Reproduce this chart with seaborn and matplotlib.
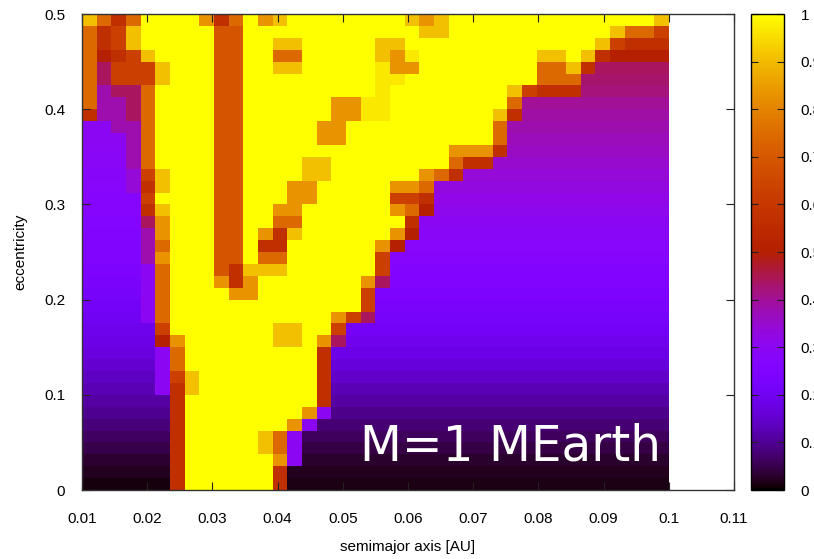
import numpy as np
import matplotlib
matplotlib.use("Agg")
import matplotlib.pyplot as plt
import seaborn as sns

# ---------------- data ----------------
# grid: 40 columns of semimajor axis from 0.01 to 0.10 AU,
#       40 rows of eccentricity from 0.5 (top row) down to 0.0
a_min, a_max, n_a = 0.01, 0.10, 40
e_min, e_max, n_e = 0.0, 0.5, 40

# colour-code letters -> stability value
code_values = {
    "Y": 1.00, "G": 0.965, "g": 0.91, "o": 0.83, "d": 0.74, "s": 0.69,
    "r": 0.63, "R": 0.57, "M": 0.50, "m": 0.44, "p": 0.38, "q": 0.34,
    "v": 0.30,
}
# background values of the smooth purple regions, per row (top -> bottom)
bg_right = [0.47, 0.47, 0.46, 0.46, 0.44, 0.43, 0.42, 0.40, 0.39, 0.38,
            0.37, 0.36, 0.35, 0.34, 0.33, 0.32, 0.31, 0.30, 0.29, 0.28,
            0.27, 0.26, 0.25, 0.24, 0.23, 0.22, 0.21, 0.195, 0.18, 0.165,
            0.145, 0.125, 0.11, 0.09, 0.075, 0.06, 0.045, 0.03, 0.02, 0.012]
bg_left = [0.32, 0.32, 0.32, 0.32, 0.32, 0.32, 0.32, 0.32, 0.32, 0.30,
           0.30, 0.295, 0.29, 0.285, 0.28, 0.275, 0.27, 0.265, 0.26, 0.255,
           0.25, 0.24, 0.23, 0.22, 0.21, 0.20, 0.19, 0.18, 0.17, 0.155,
           0.14, 0.125, 0.11, 0.095, 0.08, 0.065, 0.05, 0.035, 0.02, 0.01]
# 'b' = right background, 'l' = left background
grid_rows = [
    "gdRdYYYYoRdYogYYYYYYYYgogYYYYYYYYYYYYYYg",
    "dRrgYYYYYssYYYYYYYYYYYYggYYYYYYYYYYYgddr",
    "dRrgYYYYYssYYggYYYYYggYYYYYYYYYYYYYgrRRR",
    "dMRrgYYYYssYYddYYYYYgoGYYYYYYYYggYgRMMMM",
    "dmrrrgYYYssYYggYYYYYGooYYYYYYYYddgRmmmmm",
    "dmrrrgYYYssYYYYYYYYYGGYYYYYYYYYdddbbbbbb",
    "dpmmdYYYYssYYYYYYYYYGYYYYYYYYgrRRRbbbbbb",
    "dppmdYYYYssYYYYYYooGGYYYYYYYYdbbbbbbbbbb",
    "RppmdYYYYssYYYYYYooGGYYYYYYYgRbbbbbbbbbb",
    "lvppdYYYYssYYYYYooYYYYYYYYYYdbbbbbbbbbbb",
    "lllpdYYYYssYYYYYooYYYYYYYYYYdbbbbbbbbbbb",
    "lllpdYYYYssYYYYYYYYYYYYYYoooRbbbbbbbbbbb",
    "lllpdYYYYssYYYYggYYYYYYYYdRRbbbbbbbbbbbb",
    "lllqrgYYYssYYYYggYYYYYYodRbbbbbbbbbbbbbb",
    "lllqRgYYYssYYYooYYYYYoodbbbbbbbbbbbbbbbb",
    "llllrYYYYssYYYooYYYYYrrRbbbbbbbbbbbbbbbb",
    "llllRgYYYssYYooYYYYYYodMbbbbbbbbbbbbbbbb",
    "llllmoYYYssYYddYYYYYYYRbbbbbbbbbbbbbbbbb",
    "llllpoYYYssYoRgYYYYYYoMbbbbbbbbbbbbbbbbb",
    "llllpdYYYssYRRYYYYYYoMbbbbbbbbbbbbbbbbbb",
    "llllpoYYYssYddYYYYYYrbbbbbbbbbbbbbbbbbbb",
    "llllvdYYYsRgggYYYYYYrbbbbbbbbbbbbbbbbbbb",
    "llllvdYYYoRoYYYYYYYombbbbbbbbbbbbbbbbbbb",
    "llllvdYYYYooYYYYYYYrbbbbbbbbbbbbbbbbbbbb",
    "llllvdYYYYYYYYYYYYYrbbbbbbbbbbbbbbbbbbbb",
    "llllvdYYYYYYYYYYYormbbbbbbbbbbbbbbbbbbbb",
    "lllllrYYYYYYYggYYrbbbbbbbbbbbbbbbbbbbbbb",
    "lllllMoYYYYYYggYombbbbbbbbbbbbbbbbbbbbbb",
    "lllllvdYYYYYYYYYRbbbbbbbbbbbbbbbbbbbbbbb",
    "lllllvdYYYYYYYYYRbbbbbbbbbbbbbbbbbbbbbbb",
    "lllllvrgYYYYYYYYRbbbbbbbbbbbbbbbbbbbbbbb",
    "lllllvRgYYYYYYYYRbbbbbbbbbbbbbbbbbbbbbbb",
    "llllllRYYYYYYYYYRbbbbbbbbbbbbbbbbbbbbbbb",
    "llllllRYYYYYYYYovbbbbbbbbbbbbbbbbbbbbbbb",
    "llllllRYYYYYYYovbbbbbbbbbbbbbbbbbbbbbbbb",
    "llllllRYYYYYgdvbbbbbbbbbbbbbbbbbbbbbbbbb",
    "llllllRYYYYYgdvbbbbbbbbbbbbbbbbbbbbbbbbb",
    "llllllRYYYYYYovbbbbbbbbbbbbbbbbbbbbbbbbb",
    "llllllRYYYYYYRbbbbbbbbbbbbbbbbbbbbbbbbbb",
    "llllllRYYYYYYRbbbbbbbbbbbbbbbbbbbbbbbbbb",
]
x_ticks = [0.01, 0.02, 0.03, 0.04, 0.05, 0.06, 0.07, 0.08, 0.09, 0.10, 0.11]
x_tick_labels = ["0.01", "0.02", "0.03", "0.04", "0.05", "0.06", "0.07",
                 "0.08", "0.09", "0.1", "0.11"]
y_ticks = [0.0, 0.1, 0.2, 0.3, 0.4, 0.5]
y_tick_labels = ["0", "0.1", "0.2", "0.3", "0.4", "0.5"]
cb_ticks = [0.0, 0.1, 0.2, 0.3, 0.4, 0.5, 0.6, 0.7, 0.8, 0.9, 1.0]
cb_tick_labels = ["0", "0.1", "0.2", "0.3", "0.4", "0.5", "0.6", "0.7",
                  "0.8", "0.9", "1"]
x_label = "semimajor axis [AU]"
y_label = "eccentricity"
annotation = "M=1 MEarth"

# ---------------- build matrix ----------------
Z = np.zeros((n_e, n_a))
for r, row in enumerate(grid_rows):
    assert len(row) == n_a, (r, len(row))
    for c, ch in enumerate(row):
        if ch == "b":
            Z[r, c] = bg_right[r]
        elif ch == "l":
            Z[r, c] = bg_left[r]
        else:
            Z[r, c] = code_values[ch]

# ---------------- figure ----------------
W, H = 814, 559
fig = plt.figure(figsize=(W / 100, H / 100), dpi=100)
fig.patch.set_facecolor("white")
ax = fig.add_axes([82 / W, 69 / H, 652 / W, 476 / H])
cax = fig.add_axes([751 / W, 69 / H, 33 / W, 476 / H])

sns.heatmap(Z, ax=ax, cbar_ax=cax, cmap="gnuplot", vmin=0, vmax=1,
            xticklabels=False, yticklabels=False, linewidths=0)

def a_pos(a):
    return (a - a_min) / (a_max - a_min) * n_a

def e_pos(e):
    return (e_max - e) / (e_max - e_min) * n_e

tick_font = ["Liberation Sans Narrow", "Liberation Sans", "DejaVu Sans"]
ax.set_xlim(0, a_pos(0.11))
ax.set_ylim(n_e, 0)
ax.set_xticks([a_pos(v) for v in x_ticks])
ax.set_xticklabels(x_tick_labels, rotation=0, family=tick_font, fontsize=11)
ax.set_yticks([e_pos(v) for v in y_ticks])
ax.set_yticklabels(y_tick_labels, rotation=0, family=tick_font, fontsize=11)
ax.tick_params(axis="both", direction="in", length=6, width=0.8,
               top=True, right=True, bottom=True, left=True, color="#222222")
ax.tick_params(axis="x", pad=16)
ax.tick_params(axis="y", pad=12)
for s in ax.spines.values():
    s.set_visible(True)
    s.set_color("#333333")
    s.set_linewidth(1.0)

ax.set_xlabel(x_label, family=tick_font, fontsize=11, labelpad=10)
ax.set_ylabel(y_label, family=tick_font, fontsize=11, labelpad=12)

ax.text(0.427, 0.061, annotation, transform=ax.transAxes, color="white",
        fontsize=35, family="DejaVu Sans", ha="left", va="baseline")

cb = ax.collections[0].colorbar
cb.set_ticks(cb_ticks)
cb.set_ticklabels(cb_tick_labels)
cb.outline.set_edgecolor("black")
cb.outline.set_linewidth(1.0)
cax.tick_params(axis="y", direction="in", length=5, width=0.8, left=True,
                right=True, labelright=True, labelleft=False, pad=12,
                color="#222222")
for t in cax.get_yticklabels():
    t.set_family(tick_font)
    t.set_fontsize(11)

fig.savefig("out.png", dpi=100, facecolor="white")
